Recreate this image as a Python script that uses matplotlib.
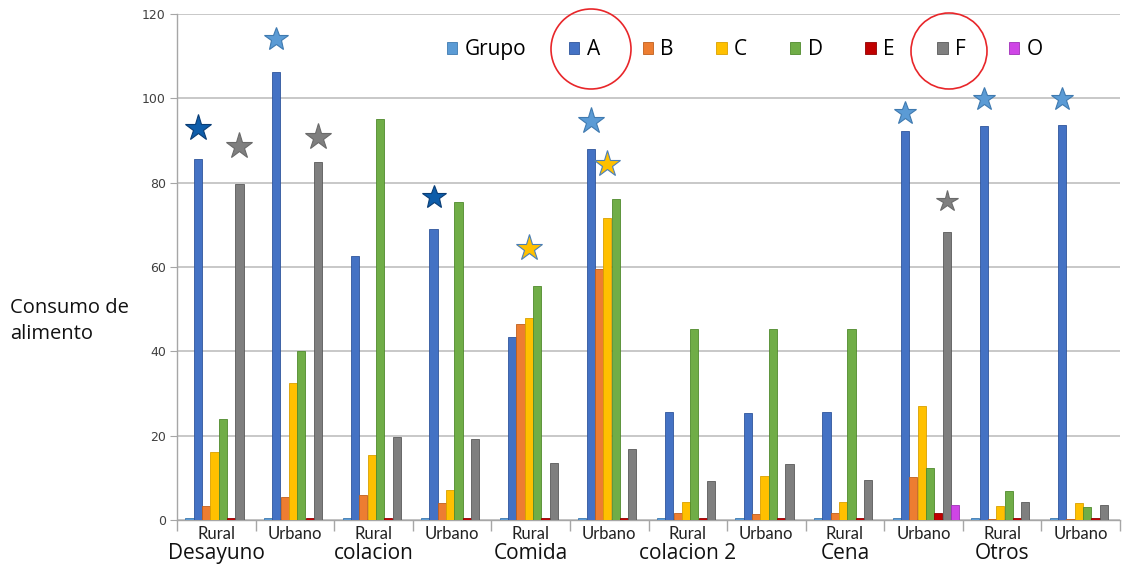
import matplotlib
matplotlib.use("Agg")
import matplotlib.pyplot as plt
import numpy as np
from matplotlib.patches import Ellipse
import matplotlib.transforms as mtransforms

# ---------------- data ----------------
sub_labels = ["Rural", "Urbano", "Rural", "Urbano", "Rural", "Urbano",
              "Rural", "Urbano", "Rural", "Urbano", "Rural", "Urbano"]
meal_labels = ["Desayuno", "colacion", "Comida", "colacion 2", "Cena", "Otros"]

series_names = ["Grupo", "A", "B", "C", "D", "E", "F", "O"]
grupo = [0.4] * 12
A = [85.7, 106.3, 62.5, 69.1, 43.5, 88.0, 25.6, 25.3, 25.6, 92.3, 93.5, 93.7]
B = [3.3, 5.5, 5.9, 4.0, 46.4, 59.6, 1.7, 1.4, 1.7, 10.2, 0.2, 0.2]
C = [16.1, 32.4, 15.4, 7.1, 47.8, 71.7, 4.3, 10.4, 4.3, 27.0, 3.3, 4.0]
D = [23.9, 40.0, 95.1, 75.3, 55.6, 76.2, 45.4, 45.2, 45.4, 12.3, 6.9, 3.1]
E = [0.4, 0.4, 0.4, 0.4, 0.4, 0.4, 0.4, 0.4, 0.4, 1.6, 0.4, 0.4]
F = [79.7, 84.8, 19.6, 19.2, 13.5, 16.8, 9.2, 13.3, 9.5, 68.2, 4.3, 3.5]
O = [0, 0, 0, 0, 0, 0, 0, 0, 0, 3.6, 0, 0]

series_values = [grupo, A, B, C, D, E, F, O]
series_colors = ["#5B9BD5", "#4472C4", "#ED7D31", "#FFC000", "#70AD47",
                 "#C00000", "#7F7F7F", "#CF45E6"]
edge_colors = ["#3f7ab0", "#2f559c", "#c05f1c", "#d9a000", "#4f8a2c",
               "#900000", "#5a5a5a", "#a030b8"]

# star annotations (category index, series index, y value, fill, edge)
star_cat = [0, 0, 1, 1, 3, 4, 5, 5, 9, 9, 10, 11]
star_series = [1, 6, 1, 6, 1, 3, 1, 3, 1, 6, 1, 1]
star_y = [93.0, 88.8, 114.0, 90.9, 76.7, 64.6, 94.7, 84.5, 96.6, 75.7, 99.9, 99.9]
star_fill = ["#0E5DAA", "#7F7F7F", "#5B9BD5", "#7F7F7F", "#0E5DAA", "#FFC000",
             "#5B9BD5", "#FFC000", "#5B9BD5", "#7F7F7F", "#5B9BD5", "#5B9BD5"]
star_edge = ["#0a3d75", "#6a6a6a", "#3f7ab0", "#6a6a6a", "#0a3d75", "#4a7fb8",
             "#3f7ab0", "#4a7fb8", "#3f7ab0", "#6a6a6a", "#3f7ab0", "#3f7ab0"]
star_size = [20, 20, 18, 20, 18, 20, 20, 20, 17, 16, 17, 17]

# ---------------- figure ----------------
W, H = 1127, 569
fig = plt.figure(figsize=(W / 100, H / 100), dpi=100)
ax = fig.add_axes([177 / W, 1 - 520 / H, (1120 - 177) / W, (520 - 14) / H])

x = np.arange(len(sub_labels))
n = len(series_names)
bw = 0.106
for i, (vals, col, ec) in enumerate(zip(series_values, series_colors, edge_colors)):
    offs = (i - (n - 1) / 2) * bw + 0.03
    ax.bar(x + offs, vals, width=bw * 0.98, color=col, edgecolor=ec,
           linewidth=0.6, label=series_names[i], zorder=3)

for c, s, yv, fc, ec, ms in zip(star_cat, star_series, star_y, star_fill, star_edge, star_size):
    offs = (s - (n - 1) / 2) * bw + 0.03
    ax.plot(x[c] + offs, yv, marker="*", markersize=ms, markerfacecolor=fc,
            markeredgecolor=ec, markeredgewidth=0.8, linestyle="none", zorder=5)

ax.set_xlim(-0.5, len(sub_labels) - 0.5)
ax.set_ylim(0, 120)
ax.set_yticks(np.arange(0, 121, 20))
ax.yaxis.grid(True, color="#c8c8c8", linewidth=1.4, zorder=0)
ax.set_axisbelow(True)
for side in ["top", "right"]:
    ax.spines[side].set_visible(False)
for side in ["left", "bottom"]:
    ax.spines[side].set_color("#a6a6a6")
    ax.spines[side].set_linewidth(1.0)
ax.tick_params(axis="y", labelsize=9, colors="#404040", length=5, color="#a6a6a6", pad=3)
ax.set_xticks(x)
ax.set_xticklabels(sub_labels, fontsize=12, fontfamily="Lato", color="#222222")
ax.tick_params(axis="x", length=0, pad=4)
ax.set_xticks(np.arange(-0.5, len(sub_labels), 1), minor=True)
ax.tick_params(axis="x", which="minor", length=8, color="#a6a6a6", width=1)

trans = mtransforms.blended_transform_factory(ax.transData, ax.transAxes)
for k, lab in enumerate(meal_labels):
    ax.text(2 * k, -0.066, lab, transform=trans, ha="center", va="center",
            fontsize=15, fontfamily="Open Sans", color="#111111")

fig.text(10 / W, 1 - 321 / H, "Consumo de\nalimento", ha="left", va="center",
         fontsize=14.5, fontfamily="Open Sans", color="#111111", linespacing=1.45)

leg = ax.legend(loc="center", bbox_to_anchor=(0.602, 0.929), ncol=8, frameon=False,
                handlelength=0.5, handleheight=0.5, handletextpad=0.35,
                columnspacing=2.05, prop={"family": "Open Sans", "size": 15})

for cx, cy, r in [(591, 49, 40), (949, 51, 38)]:
    fig.add_artist(Ellipse((cx / W, 1 - cy / H), 2 * r / W, 2 * r / H,
                           transform=fig.transFigure, fill=False,
                           edgecolor="#e8262a", linewidth=1.2, zorder=10))

fig.savefig("out.png", dpi=100)
